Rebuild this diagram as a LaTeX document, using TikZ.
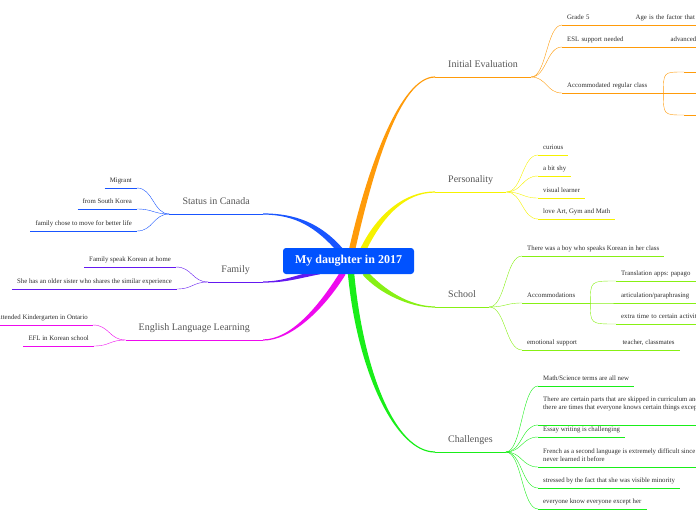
\documentclass[tikz,border=0pt]{standalone}
\usepackage{fontspec}
\setmainfont{Liberation Serif}
\usetikzlibrary{calc,backgrounds}
\definecolor{rootcolor}{RGB}{0,82,255}
\definecolor{evalcolor}{RGB}{255,155,10}
\definecolor{perscolor}{RGB}{246,242,0}
\definecolor{schoolcolor}{RGB}{135,240,20}
\definecolor{chalcolor}{RGB}{25,238,25}
\definecolor{statuscolor}{RGB}{25,85,255}
\definecolor{familycolor}{RGB}{100,25,240}
\definecolor{ellcolor}{RGB}{238,10,238}
\definecolor{topictext}{RGB}{85,85,85}
\definecolor{kidtext}{RGB}{45,45,45}

% tapered main branch: colour, half width at the foot, foot, control 1, control 2, end
\newcommand{\trunk}[6]{%
  \fill[#1] ($(#3)-(#2)$) .. controls ($(#4)-(#2)$) and ($(#5)+(0,-0.6)$) .. ($(#6)+(0,-0.6)$)
    -- ($(#6)+(0,0.6)$) .. controls ($(#5)+(0,0.6)$) and ($(#4)+(#2)$) .. ($(#3)+(#2)$) -- cycle;}

\begin{document}
\begin{tikzpicture}[x=1pt, y=-1pt,
    root/.style={rectangle, rounded corners=3pt, fill=rootcolor, text=white, font=\fontsize{12}{14}\selectfont\bfseries, minimum width=131pt, minimum height=26pt, inner sep=0pt},
    topic/.style={font=\fontsize{10}{12}\selectfont, text=topictext, inner xsep=13pt, inner ysep=7.5pt, text depth=2.2pt},
    kid/.style={font=\fontsize{6.8}{8.3}\selectfont\frenchspacing, text=kidtext, inner xsep=5pt, inner ysep=4pt, text depth=1.5pt, align=left},
    rkid/.style={kid, anchor=south west},
    lkid/.style={kid, anchor=south east},
    twig/.style={line width=0.8pt},
    branch/.style={twig, to path={let \p1=(\tikztostart), \p2=(\tikztotarget) in .. controls ({(\x1+\x2)/2},\y1) and ({(\x1+\x2)/2},\y2) .. (\tikztotarget)}},
    fork/.style={twig, to path={let \p1=(\tikztostart), \p2=(\tikztotarget) in .. controls (\x1,\y2) .. (\tikztotarget)}}
]
\useasboundingbox (0,0) rectangle (696,520);
\clip (0,0) rectangle (696,520);

% Centre
\node[root] (root) at (348.5,261) {My daughter in 2017};

% Topics
\node[topic, anchor=south west] (eval) at (435,77) {Initial Evaluation};
\node[topic, anchor=south west] (pers) at (435,192) {Personality};
\node[topic, anchor=south west] (school) at (435,307) {School};
\node[topic, anchor=south west] (chal) at (435,452) {Challenges};
\node[topic, anchor=south east] (status) at (263,214) {Status in Canada};
\node[topic, anchor=south east] (family) at (263,282) {Family};
\node[topic, anchor=south east] (ell) at (263,340) {English Language Learning};

% Main branches
\coordinate (eval-foot) at ($(root.center)+(3.5,-11)$);
\coordinate (pers-foot) at ($(root.center)+(14.5,-11)$);
\coordinate (school-foot) at ($(root.center)+(16.5,12)$);
\coordinate (chal-foot) at ($(root.center)+(2.5,12)$);
\coordinate (status-foot) at ($(root.center)+(-8.5,-11)$);
\coordinate (family-foot) at ($(root.center)+(-28.5,11)$);
\coordinate (ell-foot) at ($(root.center)+(-5.5,12)$);
\begin{scope}[on background layer]
\trunk{evalcolor}{3.2,0}{eval-foot}{370,170}{400,77}{eval.south west}
\trunk{perscolor}{2.7,1.4}{pers-foot}{380,215}{405,192}{pers.south west}
\trunk{schoolcolor}{-2.3,1.9}{school-foot}{382,292}{410,307}{school.south west}
\trunk{chalcolor}{-3.2,0}{chal-foot}{360,370}{395,452}{chal.south west}
\trunk{statuscolor}{-2.3,2}{status-foot}{318,225}{295,214}{status.south east}
\trunk{familycolor}{0,2.2}{family-foot}{295,277}{285,282}{family.south east}
\trunk{ellcolor}{2.5,1.6}{ell-foot}{320,310}{290,340}{ell.south east}
\end{scope}

% Initial Evaluation
\node[rkid, text width=58pt] (grade) at (562,25) {Grade 5};
\node[rkid, text width=80pt] (age) at (grade.south east) {Age is the factor that};
\node[rkid, text width=93pt] (esl) at (562,47) {ESL support needed};
\node[rkid, text width=40pt] (adv) at (esl.south east) {advanced};
\node[rkid, text width=91pt] (accreg) at (562,93) {Accommodated regular class};
\node[rkid, minimum width=20pt] (accreg1) at (684,72) {};
\node[rkid, minimum width=40pt] (accreg2) at (accreg.south east) {};
\node[rkid, minimum width=20pt] (accreg3) at (684,115) {};
\draw[evalcolor] (eval.south east) to[branch] (grade.south west);
\draw[evalcolor] (eval.south east) to[branch] (esl.south west);
\draw[evalcolor] (eval.south east) to[branch] (accreg.south west);
\draw[evalcolor] (accreg.south east) to[fork] (accreg1.south west);
\draw[evalcolor] (accreg.south east) to[fork] (accreg3.south west);
\foreach \nd in {eval,grade,age,esl,adv,accreg,accreg1,accreg2,accreg3}
  \draw[twig, evalcolor] (\nd.south west) -- (\nd.south east);

% Personality
\node[rkid] (curious) at (538,155) {curious};
\node[rkid] (shy) at (538,176) {a bit shy};
\node[rkid] (visual) at (538,198) {visual learner};
\node[rkid] (arts) at (538,219) {love Art, Gym and Math};
\foreach \nd in {curious,shy,visual,arts}
  \draw[perscolor] (pers.south east) to[branch] (\nd.south west);
\foreach \nd in {pers,curious,shy,visual,arts}
  \draw[twig, perscolor] (\nd.south west) -- (\nd.south east);

% School
\node[rkid] (boy) at (522,256) {There was a boy who speaks Korean in her class};
\node[rkid, text width=58pt] (accom) at (522,303) {Accommodations};
\node[rkid, text width=90pt] (papago) at (616,281) {Translation apps: papago};
\node[rkid, text width=90pt] (para) at (616,303) {articulation/paraphrasing};
\node[rkid, text width=90pt] (extra) at (616,324) {extra time to certain activities};
\node[rkid, text width=85pt] (emo) at (522,350) {emotional support};
\node[rkid] (mates) at (emo.south east) {teacher, classmates};
\foreach \nd in {boy,accom,emo}
  \draw[schoolcolor] (school.south east) to[branch] (\nd.south west);
\foreach \nd in {papago,para,extra}
  \draw[schoolcolor] (accom.south east) to[fork] (\nd.south west);
\foreach \nd in {school,boy,accom,papago,para,extra,emo,mates}
  \draw[twig, schoolcolor] (\nd.south west) -- (\nd.south east);

% Challenges
\node[rkid] (terms) at (538,386) {Math/Science terms are all new};
\node[rkid, inner ysep=13.5pt] (skipped) at (538,425) {There are certain parts that are skipped in curriculum and\\there are times that everyone knows certain things except};
\node[rkid] (essay) at (538,437) {Essay writing is challenging};
\node[rkid] (french) at (538,467) {French as a second language is extremely difficult since\\never learned it before};
\node[rkid] (minority) at (538,488) {stressed by the fact that she was visible minority};
\node[rkid] (except) at (538,509) {everyone know everyone except her};
\foreach \nd in {terms,skipped,essay,french,minority,except}
  \draw[chalcolor] (chal.south east) to[branch] (\nd.south west);
\foreach \nd in {chal,terms,skipped,essay,french,minority,except}
  \draw[twig, chalcolor] (\nd.south west) -- (\nd.south east);

% Status in Canada
\node[lkid] (migrant) at (137,188) {Migrant};
\node[lkid] (korea) at (137,209) {from South Korea};
\node[lkid] (better) at (137,231) {family chose to move for better life};
\foreach \nd in {migrant,korea,better}
  \draw[statuscolor] (status.south west) to[branch] (\nd.south east);
\foreach \nd in {status,migrant,korea,better}
  \draw[twig, statuscolor] (\nd.south west) -- (\nd.south east);

% Family
\node[lkid] (speak) at (176,267) {Family speak Korean at home};
\node[lkid] (sister) at (177,289) {She has an older sister who shares the similar experience};
\foreach \nd in {speak,sister}
  \draw[familycolor] (family.south west) to[branch] (\nd.south east);
\foreach \nd in {family,speak,sister}
  \draw[twig, familycolor] (\nd.south west) -- (\nd.south east);

% English Language Learning
\node[lkid] (kinder) at (93,325) {Attended Kindergarten in Ontario};
\node[lkid] (efl) at (94,346) {EFL in Korean school};
\foreach \nd in {kinder,efl}
  \draw[ellcolor] (ell.south west) to[branch] (\nd.south east);
\foreach \nd in {ell,kinder,efl}
  \draw[twig, ellcolor] (\nd.south west) -- (\nd.south east);
\end{tikzpicture}
\end{document}
